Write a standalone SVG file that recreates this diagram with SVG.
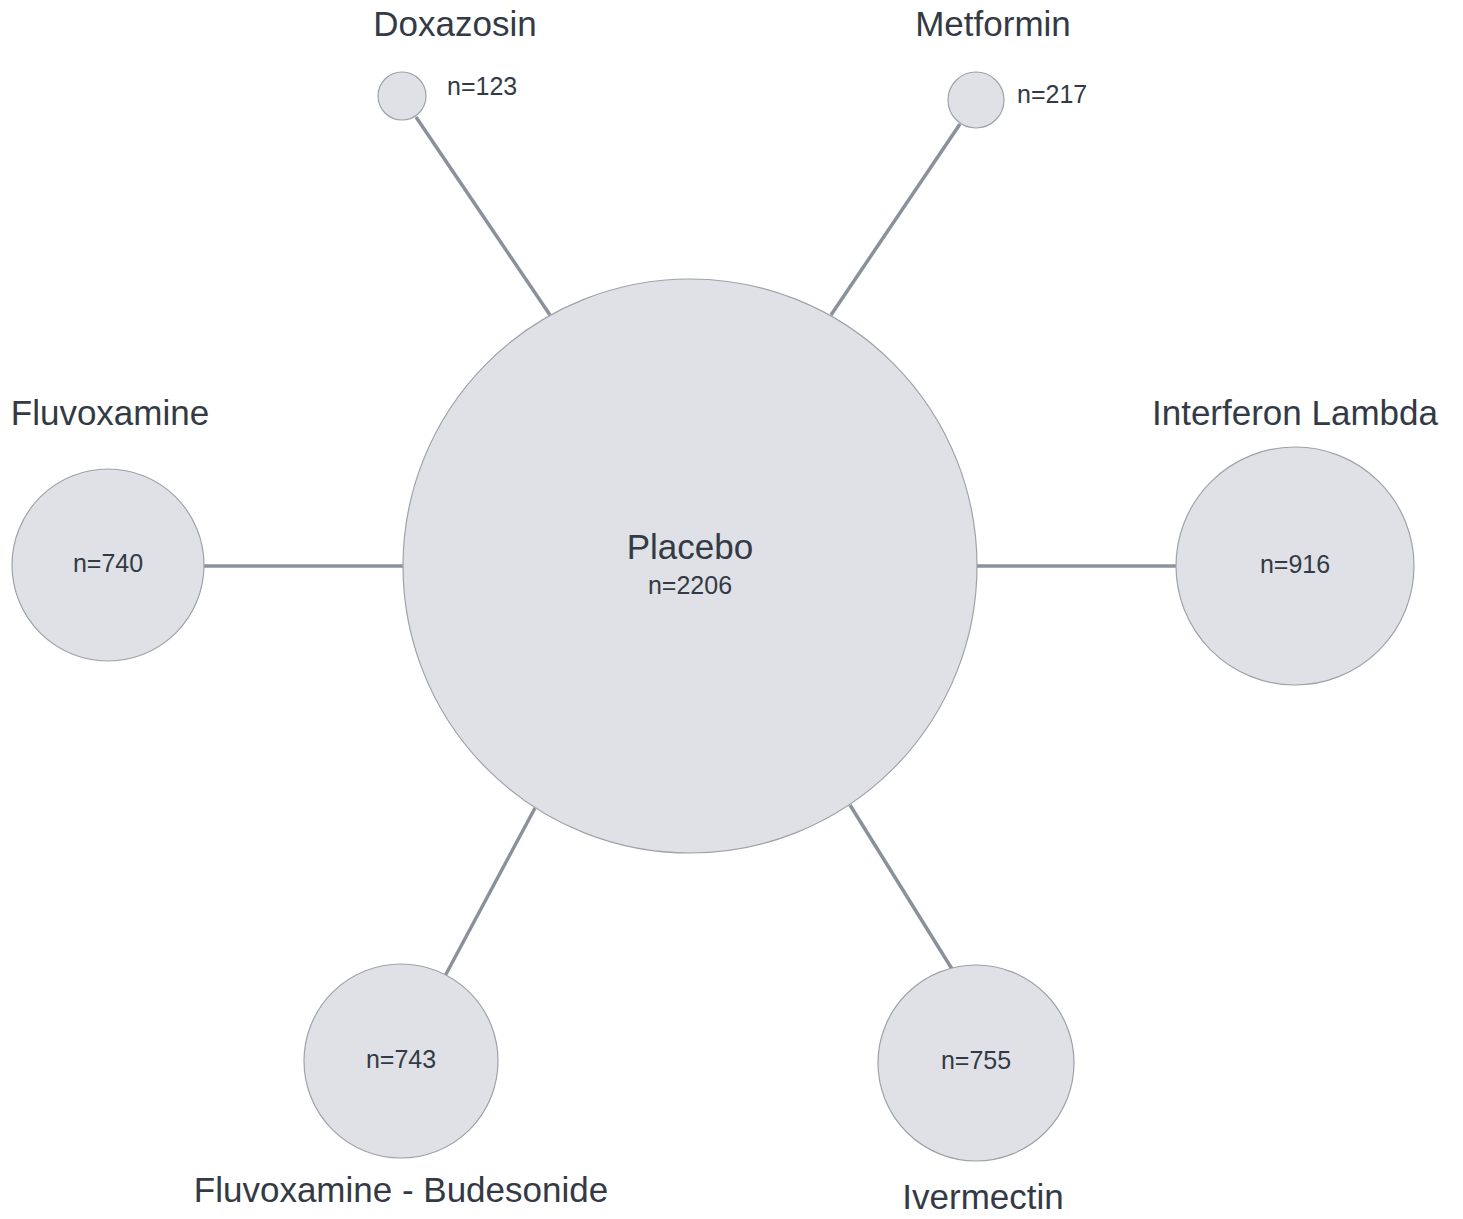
<svg xmlns="http://www.w3.org/2000/svg" width="1463" height="1219" viewBox="0 0 1463 1219">
<style>
.node{fill:#dfe1e6;stroke:#9ea2a9;stroke-width:1.2}
.edge{stroke:#8b919c;stroke-width:3.5;fill:none}
.lbl{font-family:"Liberation Sans",Arial,sans-serif;font-size:35px;fill:#333a45;text-anchor:middle}
.n{font-family:"Liberation Sans",Arial,sans-serif;font-size:25px;fill:#333a45;text-anchor:middle}
</style>
<rect width="1463" height="1219" fill="#ffffff"/>
<g id="connectors">
<line class="edge" x1="416" y1="117" x2="550" y2="315"/>
<line class="edge" x1="960" y1="124" x2="831" y2="315"/>
<line class="edge" x1="204" y1="566" x2="403" y2="566"/>
<line class="edge" x1="977" y1="566" x2="1176" y2="566"/>
<line class="edge" x1="535" y1="808" x2="445" y2="976"/>
<line class="edge" x1="850" y1="805" x2="952" y2="969"/>
</g>
<g id="placebo">
<circle class="node" cx="690" cy="566" r="287"/>
<text class="lbl" x="690" y="559">Placebo</text>
<text class="n" x="690" y="594">n=2206</text>
</g>
<g id="doxazosin">
<circle class="node" cx="402" cy="96" r="24"/>
<text class="lbl" x="455" y="36">Doxazosin</text>
<text class="n" x="447" y="95" style="text-anchor:start">n=123</text>
</g>
<g id="metformin">
<circle class="node" cx="976" cy="100" r="28"/>
<text class="lbl" x="993" y="36">Metformin</text>
<text class="n" x="1017" y="103" style="text-anchor:start">n=217</text>
</g>
<g id="fluvoxamine">
<circle class="node" cx="108" cy="565" r="96"/>
<text class="lbl" x="110" y="425">Fluvoxamine</text>
<text class="n" x="108" y="572">n=740</text>
</g>
<g id="interferon">
<circle class="node" cx="1295" cy="566" r="119"/>
<text class="lbl" x="1295" y="425">Interferon Lambda</text>
<text class="n" x="1295" y="573">n=916</text>
</g>
<g id="fluvoxamine-budesonide">
<circle class="node" cx="401" cy="1061" r="97"/>
<text class="lbl" x="401" y="1202">Fluvoxamine - Budesonide</text>
<text class="n" x="401" y="1068">n=743</text>
</g>
<g id="ivermectin">
<circle class="node" cx="976" cy="1063" r="98"/>
<text class="lbl" x="983" y="1209">Ivermectin</text>
<text class="n" x="976" y="1069">n=755</text>
</g>
</svg>
